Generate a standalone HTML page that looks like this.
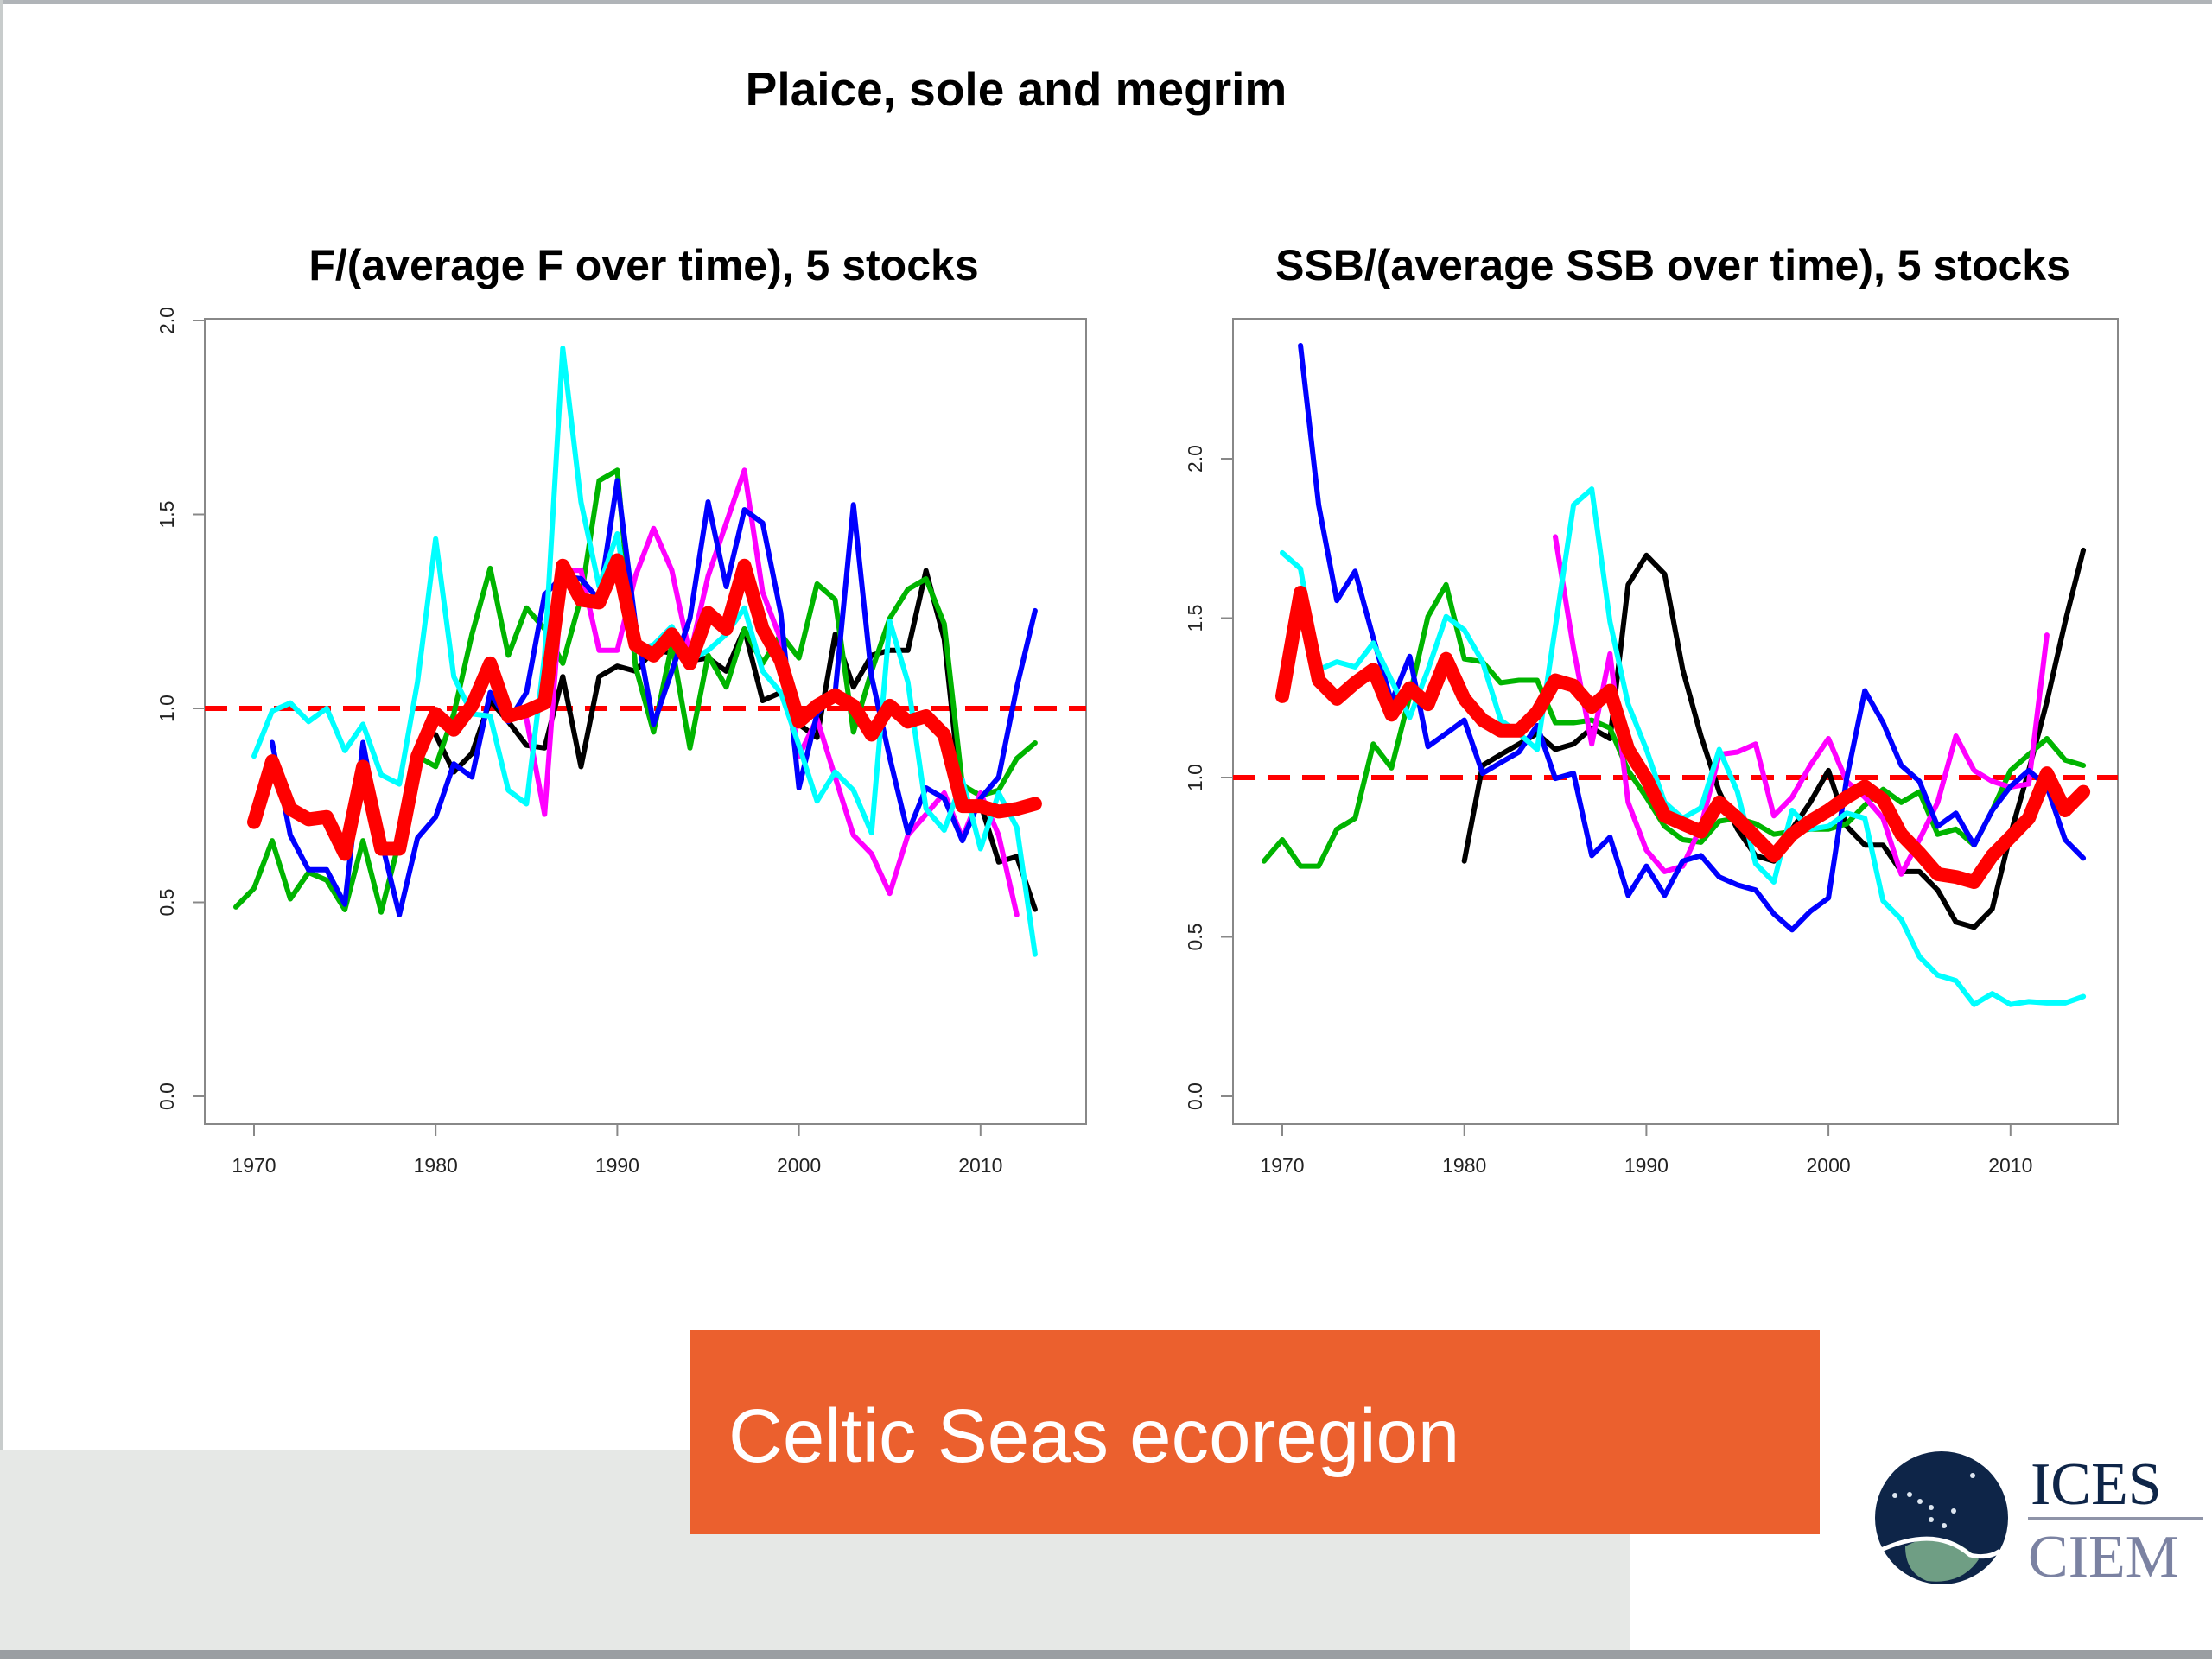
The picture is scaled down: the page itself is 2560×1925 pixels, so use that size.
<!DOCTYPE html>
<html><head><meta charset="utf-8"><style>
html,body{margin:0;padding:0;background:#fff;}
body{width:2560px;height:1920px;position:relative;overflow:hidden;font-family:"Liberation Sans",sans-serif;}
</style></head><body>
<svg id="root" width="2560" height="1920" viewBox="0 0 2560 1920" xmlns="http://www.w3.org/2000/svg">
<rect x="0" y="0" width="2560" height="5" fill="#b0b4b8"/>
<rect x="0" y="0" width="3" height="1920" fill="#c8cccc"/>
<rect x="0" y="1678" width="1886" height="232" fill="#e6e8e6"/>
<rect x="0" y="1910" width="2560" height="10" fill="#9a9ea2"/>
<text x="1176" y="122" text-anchor="middle" font-size="55" font-weight="bold" fill="#000">Plaice, sole and megrim</text>
<rect x="798" y="1540" width="1308" height="236" fill="#eb602e"/>
<text x="843" y="1692" font-size="87" fill="#fff">Celtic Seas ecoregion</text>
<g>
<circle cx="2247" cy="1757" r="77" fill="#0e2548"/>
<path d="M2205 1790 Q2250 1765 2290 1805 Q2270 1835 2230 1830 Q2205 1820 2205 1790Z" fill="#6f9e84"/>
<path d="M2175 1795 Q2240 1765 2280 1800 Q2300 1805 2315 1795" stroke="#fff" stroke-width="5" fill="none"/>
<g fill="#dde6f0"><circle cx="2193" cy="1731" r="3"/><circle cx="2210" cy="1730" r="3"/><circle cx="2222" cy="1738" r="3"/><circle cx="2235" cy="1745" r="3"/><circle cx="2261" cy="1749" r="3"/><circle cx="2235" cy="1759" r="3"/><circle cx="2250" cy="1766" r="3"/><circle cx="2283" cy="1708" r="3"/></g>
<text x="2350" y="1741" font-family="Liberation Serif,serif" font-size="70" fill="#0e2548">ICES</text>
<rect x="2347" y="1756" width="203" height="4" fill="#8f94a8"/>
<text x="2347" y="1825" font-family="Liberation Serif,serif" font-size="70" fill="#7b82a2">CIEM</text>
</g>
<g id="chartF"></g>
<g id="chartS"></g>
</svg>
<script>
// ---- F chart data ----
const fRedStart=1970;
const fRed=[0.707,0.864,0.741,0.714,0.720,0.625,0.850,0.638,0.638,0.877,0.986,0.945,1.007,1.116,0.980,0.993,1.014,1.368,1.280,1.273,1.382,1.164,1.136,1.191,1.116,1.246,1.205,1.368,1.205,1.123,0.966,1.007,1.034,1.007,0.932,1.007,0.966,0.980,0.932,0.748,0.748,0.734,0.741,0.754];
const fCyanStart=1970;
const fCyan=[0.877,0.993,1.014,0.966,1.0,0.891,0.959,0.829,0.805,1.068,1.437,1.082,0.986,0.980,0.789,0.754,1.136,1.928,1.532,1.314,1.450,1.150,1.164,1.211,1.123,1.150,1.191,1.259,1.096,1.041,0.905,0.761,0.836,0.789,0.679,1.225,1.068,0.741,0.686,0.816,0.638,0.782,0.693,0.366];
const fGreenStart=1969;
const fGreen=[0.488,0.536,0.659,0.509,0.577,0.557,0.481,0.659,0.475,0.659,0.877,0.850,0.986,1.191,1.361,1.137,1.259,1.205,1.116,1.286,1.587,1.614,1.109,0.939,1.164,0.898,1.137,1.055,1.205,1.116,1.191,1.130,1.321,1.280,0.939,1.096,1.232,1.307,1.334,1.218,0.802,0.775,0.789,0.871,0.911];
const fBlueStart=1971;
const fBlue=[0.912,0.673,0.584,0.584,0.495,0.912,0.661,0.468,0.666,0.720,0.857,0.823,1.041,0.966,1.041,1.293,1.341,1.334,1.279,1.587,1.218,0.959,1.096,1.232,1.532,1.314,1.512,1.478,1.246,0.795,0.986,1.041,1.525,1.082,0.873,0.679,0.795,0.768,0.659,0.768,0.823,1.055,1.252];
const fBlackStart=1980;
const fBlack=[0.932,0.836,0.884,1.020,0.966,0.905,0.898,1.082,0.850,1.082,1.109,1.096,1.150,1.143,1.123,1.130,1.096,1.205,1.020,1.041,0.959,0.925,1.191,1.055,1.137,1.150,1.150,1.355,1.178,0.741,0.754,0.604,0.618,0.482];
const fMagentaStart=1985;
const fMagenta=[0.973,0.727,1.356,1.356,1.150,1.150,1.341,1.464,1.356,1.137,1.341,1.478,1.614,1.300,1.177,0.877,0.973,0.823,0.673,0.625,0.523,0.673,0.727,0.782,0.666,0.782,0.673,0.468];
const fYTicks=[0,0.5,1,1.5,2];
const fYLabels=["0.0","0.5","1.0","1.5","2.0"];
const xTicks=[1970,1980,1990,2000,2010];
// ---- SSB chart data ----
const sRedStart=1970;
const sRed=[1.255,1.580,1.305,1.247,1.297,1.338,1.197,1.280,1.230,1.372,1.247,1.180,1.147,1.147,1.205,1.305,1.288,1.222,1.272,1.088,0.997,0.880,0.855,0.830,0.922,0.872,0.813,0.755,0.822,0.863,0.897,0.938,0.972,0.930,0.822,0.763,0.697,0.688,0.672,0.755,0.813,0.872,1.013,0.897,0.955];
const sBlueStart=1971;
const sBlue=[2.355,1.855,1.555,1.647,1.438,1.238,1.380,1.097,1.138,1.180,1.013,1.047,1.080,1.163,0.997,1.013,0.755,0.813,0.630,0.722,0.630,0.738,0.755,0.688,0.663,0.647,0.572,0.522,0.580,0.622,0.997,1.272,1.172,1.038,0.988,0.847,0.888,0.788,0.897,0.972,1.022,0.972,0.805,0.747];
const sCyanStart=1970;
const sCyan=[1.705,1.655,1.338,1.363,1.347,1.422,1.305,1.188,1.338,1.505,1.463,1.363,1.180,1.138,1.088,1.472,1.855,1.905,1.488,1.230,1.088,0.922,0.872,0.905,1.088,0.955,0.730,0.672,0.897,0.838,0.847,0.888,0.872,0.613,0.555,0.438,0.380,0.363,0.288,0.322,0.288,0.297,0.293,0.293,0.313];
const sGreenStart=1969;
const sGreen=[0.738,0.805,0.722,0.722,0.838,0.872,1.105,1.030,1.255,1.505,1.605,1.372,1.363,1.297,1.305,1.305,1.172,1.172,1.180,1.155,1.022,0.938,0.847,0.805,0.797,0.863,0.872,0.855,0.822,0.830,0.838,0.838,0.855,0.913,0.963,0.922,0.955,0.822,0.838,0.788,0.897,1.022,1.072,1.122,1.055,1.038];
const sBlackStart=1980;
const sBlack=[0.738,1.038,1.072,1.105,1.138,1.088,1.105,1.155,1.122,1.605,1.697,1.638,1.338,1.130,0.955,0.838,0.755,0.738,0.838,0.922,1.022,0.847,0.788,0.788,0.705,0.705,0.647,0.547,0.530,0.588,0.822,1.022,1.238,1.488,1.713];
const sMagentaStart=1985;
const sMagenta=[1.755,1.405,1.105,1.388,0.922,0.772,0.705,0.722,0.847,1.072,1.080,1.105,0.880,0.938,1.038,1.122,0.988,0.938,0.872,0.697,0.805,0.922,1.130,1.022,0.988,0.970,0.980,1.447];
const sYTicks=[0,0.5,1,1.5,2];
const sYLabels=["0.0","0.5","1.0","1.5","2.0"];

const NS="http://www.w3.org/2000/svg";
function mk(tag,attrs,parent){const e=document.createElementNS(NS,tag);for(const k in attrs)e.setAttribute(k,attrs[k]);parent.appendChild(e);return e;}

function drawChart(g,cfg){
  const xS=yr=>cfg.x0+(yr-1970)*cfg.xPer;
  const yS=v=>cfg.y0-v*cfg.yUnit;
  const box=mk('rect',{x:cfg.bx,y:369,width:cfg.bw,height:932,fill:'none',stroke:'#888',"stroke-width":2},g);
  
  
  const t=mk('text',{x:cfg.tx,y:324,"text-anchor":"middle","font-size":50,"font-weight":"bold",fill:"#000"},g);
  t.textContent=cfg.title;
  
  
  cfg.yTicks.forEach((v,i)=>{
    const y=yS(v);
    const tk=mk('line',{x1:cfg.bx-14,x2:cfg.bx,y1:y,y2:y,stroke:'#888',"stroke-width":2},g);
    
    
    const lb=mk('text',{x:cfg.bx-36,y:y,"text-anchor":"middle","font-size":23,fill:"#222",transform:`rotate(-90 ${cfg.bx-36} ${y})`},g);
    lb.textContent=cfg.yLabels[i];
    
    
  });
  xTicks.forEach(yr=>{
    const x=xS(yr);
    const tk=mk('line',{x1:x,x2:x,y1:1301,y2:1315,stroke:'#888',"stroke-width":2},g);
    
    
    const lb=mk('text',{x:x,y:1357,"text-anchor":"middle","font-size":23,fill:"#222"},g);
    lb.textContent=yr;
    
    
  });
  const ref=mk('line',{x1:cfg.bx,x2:cfg.bx+cfg.bw,y1:yS(1),y2:yS(1),stroke:'#f00',"stroke-width":6,"stroke-dasharray":"26 14"},g);
  
  
  cfg.series.forEach(s=>{
    const pts=s.data.map((v,i)=>xS(s.start+i).toFixed(1)+','+yS(v).toFixed(1)).join(' ');
    const p=mk('polyline',{points:pts,fill:'none',stroke:s.color,"stroke-width":s.w,"stroke-linejoin":"round","stroke-linecap":"round"},g);
    
    
  });
}
drawChart(document.getElementById('chartF'),{bx:237,bw:1020,tx:745,x0:294,xPer:21.02,y0:1269,yUnit:449,
  title:"F/(average F over time), 5 stocks",yTicks:fYTicks,yLabels:fYLabels,
  series:[{name:'stock-black',color:'#000',w:6,start:fBlackStart,data:fBlack},
  {name:'stock-green',color:'#00b400',w:6,start:fGreenStart,data:fGreen},
  {name:'stock-magenta',color:'#ff00ff',w:6,start:fMagentaStart,data:fMagenta},
  {name:'stock-blue',color:'#0000ff',w:6,start:fBlueStart,data:fBlue},
  {name:'stock-cyan',color:'#00ffff',w:6,start:fCyanStart,data:fCyan},
  {name:'mean-red',color:'#ff0000',w:16,start:fRedStart,data:fRed}]});
drawChart(document.getElementById('chartS'),{bx:1427,bw:1024,tx:1936,x0:1484,xPer:21.07,y0:1269,yUnit:369,
  title:"SSB/(average SSB over time), 5 stocks",yTicks:sYTicks,yLabels:sYLabels,
  series:[{name:'stock-black',color:'#000',w:6,start:sBlackStart,data:sBlack},
  {name:'stock-green',color:'#00b400',w:6,start:sGreenStart,data:sGreen},
  {name:'stock-magenta',color:'#ff00ff',w:6,start:sMagentaStart,data:sMagenta},
  {name:'stock-blue',color:'#0000ff',w:6,start:sBlueStart,data:sBlue},
  {name:'stock-cyan',color:'#00ffff',w:6,start:sCyanStart,data:sCyan},
  {name:'mean-red',color:'#ff0000',w:16,start:sRedStart,data:sRed}]});
</script>
</body></html>
